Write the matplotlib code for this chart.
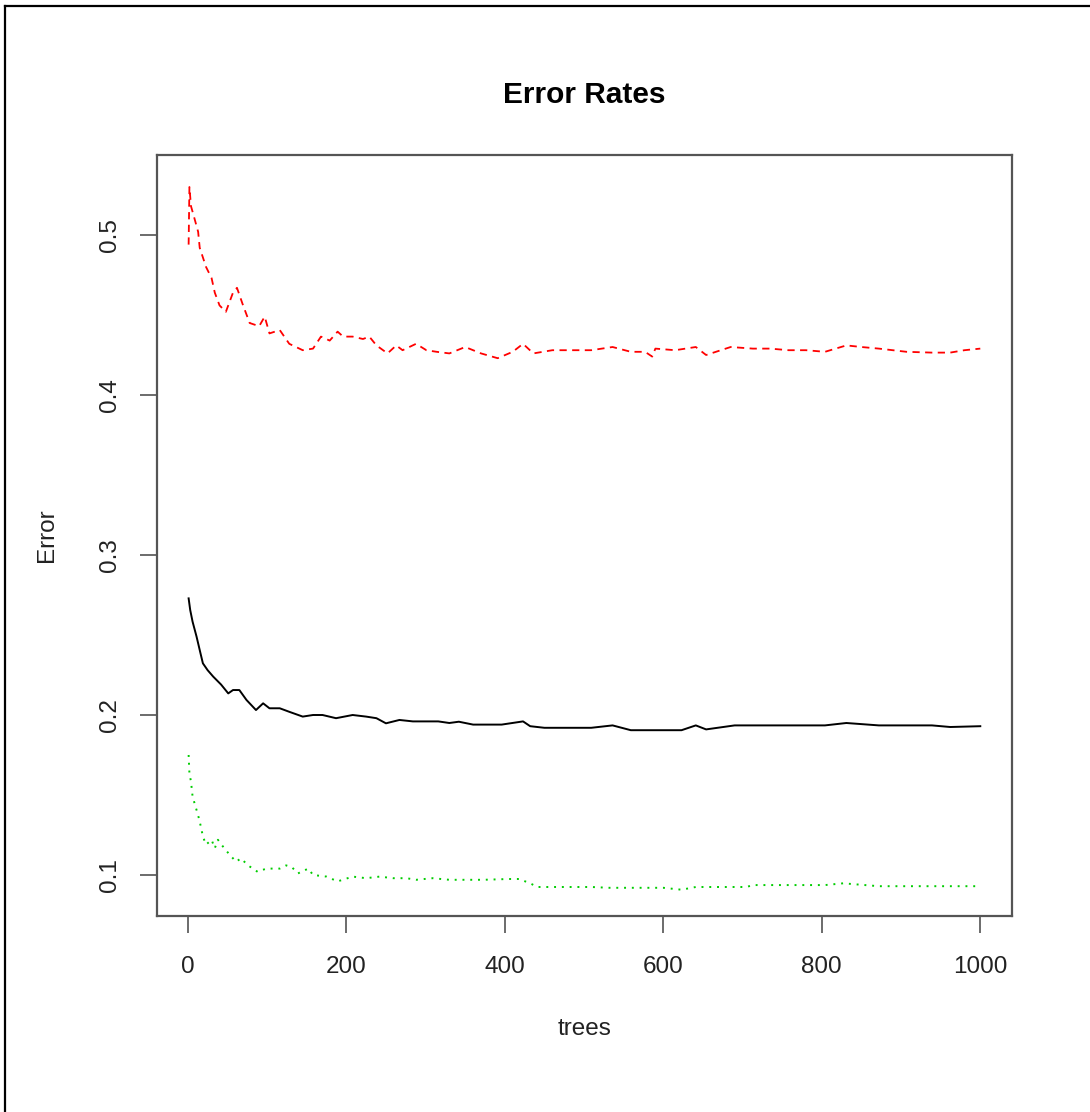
import matplotlib
matplotlib.use("Agg")
import matplotlib.pyplot as plt
from matplotlib.lines import Line2D

# ======================
# DATA
# ======================

# OOB error (black, solid)
oob_trees = [1, 3, 6, 11, 16, 19, 25, 32, 36, 42,
             51, 57, 65, 74, 86, 95, 103, 116, 128, 145,
             158, 170, 187, 208, 225, 238, 250, 267, 284, 301,
             316, 330, 342, 360, 380, 396, 423, 432, 450, 480,
             509, 536, 559, 590, 623, 641, 654, 690, 730, 770,
             804, 831, 872, 900, 939, 962, 1000]
oob_err = [0.2729, 0.2656, 0.2583, 0.249, 0.2385, 0.2323, 0.228, 0.224, 0.222, 0.219,
           0.2135, 0.2156, 0.2156, 0.2094, 0.2031, 0.2073, 0.2042, 0.2042, 0.202, 0.199,
           0.200, 0.200, 0.198, 0.200, 0.199, 0.198, 0.1948, 0.1969, 0.196, 0.196,
           0.196, 0.195, 0.1958, 0.194, 0.194, 0.194, 0.196, 0.193, 0.192, 0.192,
           0.192, 0.1935, 0.1905, 0.1905, 0.1905, 0.1935, 0.191, 0.1935, 0.1935, 0.1935,
           0.1935, 0.195, 0.1935, 0.1935, 0.1935, 0.1925, 0.193]

# class 1 error (red, dashed)
red_trees = [1, 2, 4, 8, 13, 15, 19, 23, 30, 34,
             40, 48, 57, 62, 69, 78, 90, 97, 103, 116,
             128, 145, 158, 168, 179, 189, 196, 208, 221, 229,
             238, 252, 263, 271, 288, 301, 314, 330, 350, 370,
             391, 410, 423, 436, 460, 487, 509, 536, 559, 577,
             586, 590, 615, 641, 654, 685, 713, 735, 758, 780,
             804, 831, 850, 872, 907, 939, 962, 980, 1000]
red_err = [0.494, 0.530, 0.518, 0.511, 0.502, 0.492, 0.486, 0.480, 0.473, 0.464,
           0.456, 0.452, 0.464, 0.467, 0.457, 0.445, 0.443, 0.449, 0.4385, 0.4406,
           0.432, 0.428, 0.429, 0.4365, 0.434, 0.4396, 0.4365, 0.4365, 0.435, 0.4365,
           0.431, 0.426, 0.431, 0.428, 0.432, 0.428, 0.427, 0.426, 0.430, 0.426,
           0.423, 0.427, 0.432, 0.426, 0.428, 0.428, 0.428, 0.430, 0.427, 0.427,
           0.424, 0.429, 0.428, 0.430, 0.425, 0.430, 0.429, 0.429, 0.428, 0.428,
           0.427, 0.431, 0.430, 0.429, 0.427, 0.4265, 0.4265, 0.428, 0.429]

# class 2 error (green, dotted)
green_trees = [1, 2, 4, 6, 11, 14, 17, 19, 23, 30,
               34, 38, 44, 53, 61, 67, 76, 88, 99, 116,
               124, 131, 139, 152, 158, 175, 189, 208, 225, 242,
               259, 276, 288, 309, 330, 350, 373, 405, 418, 432,
               441, 475, 509, 532, 566, 600, 623, 641, 673, 705,
               713, 760, 804, 827, 872, 920, 960, 1000]
green_err = [0.175, 0.1635, 0.1583, 0.149, 0.1406, 0.1354, 0.129, 0.124, 0.119, 0.122,
             0.1167, 0.122, 0.118, 0.1125, 0.1083, 0.1104, 0.106, 0.102, 0.104, 0.104,
             0.106, 0.105, 0.101, 0.104, 0.100, 0.099, 0.096, 0.099, 0.098, 0.099,
             0.098, 0.098, 0.097, 0.098, 0.097, 0.097, 0.097, 0.0975, 0.0975, 0.0948,
             0.0925, 0.0925, 0.0925, 0.092, 0.092, 0.092, 0.0908, 0.0925, 0.0925, 0.0925,
             0.0937, 0.0937, 0.0937, 0.0948, 0.093, 0.093, 0.093, 0.093]

x_ticks = [0, 200, 400, 600, 800, 1000]
y_ticks = [0.1, 0.2, 0.3, 0.4, 0.5]

# ======================
# PLOT
# ======================

plt.rcParams["font.family"] = ["Liberation Sans", "DejaVu Sans"]

fig = plt.figure(figsize=(10.9, 11.12), dpi=100)
ax = fig.add_axes([0.144, 0.1763, 0.7844, 0.6843])

ax.plot(oob_trees, oob_err, color="black", lw=1.4)
ax.plot(red_trees, red_err, color="#FF0000", lw=1.3, linestyle=(0, (4, 3)))
ax.plot(green_trees, green_err, color="#00CD00", lw=1.4, linestyle=(0, (1, 3)))

ax.set_xlim(-38.96, 1039.96)
ax.set_ylim(0.0744, 0.55)

ax.set_xticks(x_ticks)
ax.set_xticklabels([str(t) for t in x_ticks])
ax.set_yticks(y_ticks)
ax.set_yticklabels([str(t) for t in y_ticks], rotation=90, va="center")

ax.tick_params(axis="both", direction="out", length=12, width=1.1,
               color="#444444", labelsize=17.5, labelcolor="#222222")
ax.tick_params(axis="x", pad=17)
ax.tick_params(axis="y", pad=14)

for side in ax.spines.values():
    side.set_color("#555555")
    side.set_linewidth(1.6)

ax.set_xlabel("trees", fontsize=17.5, color="#222222", va="center")
ax.xaxis.set_label_coords(0.5, -0.1485)
ax.set_ylabel("Error", fontsize=17.5, color="#222222", va="center")
ax.yaxis.set_label_coords(-0.1287, 0.5)

fig.text(0.5363, 0.9146, "Error Rates", fontsize=21.5, fontweight="bold",
         ha="center", va="center")

# outer frame (only top and left edges visible in the screenshot)
fig.add_artist(Line2D([0.005, 0.005], [0.0, 0.995], color="black", lw=1.6,
                      transform=fig.transFigure))
fig.add_artist(Line2D([0.005, 1.0], [0.995, 0.995], color="black", lw=1.6,
                      transform=fig.transFigure))

plt.savefig("out.png", dpi=100)
plt.close()
